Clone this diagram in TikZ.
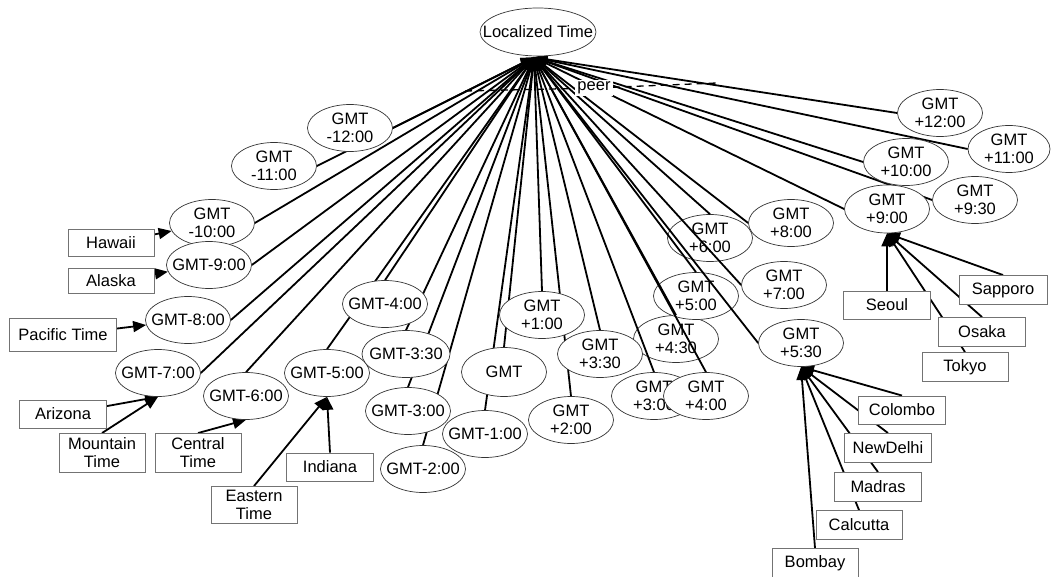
\documentclass[tikz,border=0pt]{standalone}
\usepackage{fontspec}
\setmainfont{Liberation Sans}
\usetikzlibrary{shapes.geometric,arrows.meta,calc}
\pgfdeclarelayer{under}
\pgfdeclarelayer{edges}
\pgfsetlayers{under,edges,main}

\begin{document}
\begin{tikzpicture}[x=1pt,y=-1pt,
  txt/.style={font=\fontsize{16.5}{18}\selectfont, align=center, inner sep=0pt},
  zone/.style={ellipse, draw=black!80, line width=0.7pt, fill=white,
    minimum width=85pt, minimum height=47pt, inner sep=0pt,
    label={[txt]center:{#1}}},
  city/.style={rectangle, draw=black!55, line width=0.9pt, fill=white,
    minimum width=87pt, minimum height=28pt, inner sep=0pt, txt},
  link/.style={line width=1.8pt, -{Triangle[length=13pt,width=11pt]}},
  peerline/.style={line width=1.3pt, dash pattern=on 7pt off 5pt},
]
\useasboundingbox (0,0) rectangle (1051,577);

% root
\node[zone={Localized Time}, minimum width=116pt, minimum height=48pt] (LT) at (538,32) {};
\coordinate (hub) at ($(LT.south)+(-4,1)$);

% zones west of GMT
\node[zone={GMT\\-12:00}] (gm12) at (350,128) {};
\node[zone={GMT\\-11:00}] (gm11) at (274,166) {};
\node[zone={GMT\\-10:00}] (gm10) at (212,223) {};
\node[zone={GMT-9:00}] (gm9) at (209,265) {};
\node[zone={GMT-8:00}] (gm8) at (188,320) {};
\node[zone={GMT-7:00}] (gm7) at (158,373) {};
\node[zone={GMT-6:00}] (gm6) at (246,396) {};
\node[zone={GMT-5:00}] (gm5) at (327,373) {};
\node[zone={GMT-4:00}] (gm4) at (385,304) {};
\node[zone={GMT-3:30}, minimum width=88pt] (gm330) at (406,354) {};
\node[zone={GMT-3:00}] (gm3) at (408,411) {};
\node[zone={GMT-2:00}] (gm2) at (423,469) {};
\node[zone={GMT-1:00}] (gm1) at (485,434) {};
\node[zone={GMT}, minimum height=49pt] (g0) at (504,372) {};

% zones east of GMT
\node[zone={GMT\\+1:00}] (gp1) at (542,315) {};
\node[zone={GMT\\+2:00}] (gp2) at (571,420) {};
\node[zone={GMT\\+3:30}] (gp330) at (600,354) {};
\node[zone={GMT\\+3:00}] (gp3) at (654,396) {};
\node[zone={GMT\\+4:00}] (gp4) at (706,396) {};
\begin{pgfonlayer}{under}
\node[zone={GMT\\+4:30}] (gp430) at (676,339) {};
\node[zone={GMT\\+5:00}] (gp5) at (696,296) {};
\node[zone={GMT\\+6:00}] (gp6) at (710,238) {};
\end{pgfonlayer}
\node[zone={GMT\\+7:00}] (gp7) at (784,285) {};
\node[zone={GMT\\+8:00}] (gp8) at (791,223) {};
\node[zone={GMT\\+5:30}] (gp530) at (801,343) {};
\node[zone={GMT\\+9:00}, minimum height=48pt] (gp9) at (887,209) {};
\node[zone={GMT\\+9:30}] (gp930) at (975,200) {};
\node[zone={GMT\\+10:00}] (gp10) at (906,162) {};
\node[zone={GMT\\+11:00}, minimum width=82pt] (gp11) at (1009,149) {};
\node[zone={GMT\\+12:00}] (gp12) at (940,113) {};

% places
\node[city, minimum width=86pt, minimum height=27pt] (hawaii) at (111,243) {Hawaii};
\node[city, minimum width=86pt, minimum height=25pt] (alaska) at (111,281) {Alaska};
\node[city, minimum width=107pt, minimum height=33pt] (pacific) at (63,335) {Pacific Time};
\node[city] (arizona) at (63,414) {Arizona};
\node[city, minimum width=86pt, minimum height=39pt] (mountain) at (102,453) {Mountain\\Time};
\node[city, minimum width=86pt, minimum height=39pt] (central) at (198,453) {Central\\Time};
\node[city, minimum width=86pt, minimum height=37pt] (eastern) at (254,505) {Eastern\\Time};
\node[city] (indiana) at (330,467) {Indiana};
\node[city] (seoul) at (887,305) {Seoul};
\node[city, minimum width=88pt, minimum height=29pt] (sapporo) at (1003,290) {Sapporo};
\node[city, minimum height=29pt] (osaka) at (982,332) {Osaka};
\node[city, minimum width=86pt, minimum height=29pt] (tokyo) at (965,367) {Tokyo};
\node[city] (colombo) at (902,410) {Colombo};
\node[city, minimum height=29pt] (newdelhi) at (888,448) {NewDelhi};
\node[city, minimum height=29pt] (madras) at (878,487) {Madras};
\node[city, minimum width=86pt, minimum height=29pt] (calcutta) at (859,525) {Calcutta};
\node[city, minimum width=86pt, minimum height=29pt] (bombay) at (815,563) {Bombay};

% peer relation
\coordinate (peerL) at (465,91);
\coordinate (peerR) at (717,83);
\node[txt, fill=white, inner sep=2pt] (peer) at (594,88) {peer};

\begin{pgfonlayer}{edges}
  \foreach \z in {gm12,gm11,gm10,gm9,gm8,gm7}
    \draw[link] (\z.east) -- (hub);
  \foreach \z in {gm6,gm5,gm4,gm330,gm3,gm2,gm1,g0,gp1,gp2,gp330,gp3,gp4,gp430,gp5,gp6}
    \draw[link] (\z.north) -- (hub);
  \foreach \z in {gp7,gp8,gp530,gp9,gp930,gp10,gp11,gp12}
    \draw[link] (\z.west) -- (hub);

  \draw[link] (hawaii) -- (gm10);
  \draw[link] (alaska) -- (gm9);
  \draw[link] (pacific) -- (gm8);
  \draw[link] (arizona) -- (gm7.south);
  \draw[link] (mountain.north) -- (gm7.south);
  \draw[link] (central.north) -- (gm6.south);
  \draw[link] (eastern.north) -- (gm5.south);
  \draw[link] (indiana.north) -- (gm5.south);
  \foreach \c in {seoul,sapporo,osaka,tokyo}
    \draw[link] (\c.north) -- (gp9.south);
  \foreach \c in {colombo,newdelhi,madras,calcutta,bombay}
    \draw[link] (\c.north) -- (gp530.south);

  \draw[peerline] (peerL) -- (peer) -- (peerR);
\end{pgfonlayer}
\end{tikzpicture}
\end{document}
